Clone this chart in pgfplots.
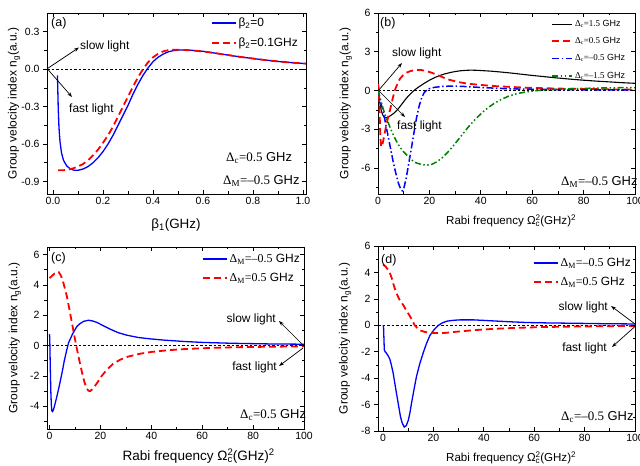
\documentclass[border=0pt]{standalone}
\usepackage{pgfplots}
\pgfplotsset{compat=1.18}
\usepackage{fontspec}
\setmainfont{Liberation Sans}
\newfontfamily\tnr{Liberation Serif}
\usetikzlibrary{arrows.meta}

\definecolor{cblue}{RGB}{0,0,255}
\definecolor{cred}{RGB}{255,0,0}
\definecolor{cgreen}{RGB}{0,128,0}

\newcommand{\fs}[1]{\fontsize{#1}{#1}\selectfont}
\newcommand{\ngl}{Group velocity index n\textsubscript{g}(a.u.)}
\newcommand{\rabi}{Rabi frequency Ω\rlap{\textsuperscript{2}}\textsubscript{c}(GHz)\textsuperscript{2}}

\pgfplotsset{
  panel/.style={
    scale only axis, anchor=south west,
    axis line style={line width=0.8bp},
    tick style={line width=0.7bp, black},
    major tick length=4bp, minor tick length=2.5bp,
    xtick align=inside, ytick align=outside,
    xtick pos=both, ytick pos=left,
    minor x tick num=1,
    /pgf/number format/assume math mode=true,
    tick label style={font=\fs{10.5}},
    xlabel style={anchor=center},
    ylabel style={anchor=center, font=\fs{12}},
    legend style={draw=none, fill=none, font=\fs{12}, inner sep=0pt,
      row sep=6bp, anchor=north east},
    legend cell align=left,
    legend image code/.code={\draw[##1] (0bp,0bp) -- (24bp,0bp);},
  },
  rticks/.style={
    scale only axis, anchor=south west,
    hide x axis, axis y line*=right,
    axis line style={line width=0.8bp},
    tick style={line width=0.7bp, black},
    major tick length=4bp, minor tick length=2.5bp,
    ytick align=inside, yticklabels={},
  },
  zeroline/.style={black, line width=0.6bp, dash pattern=on 2.5bp off 2bp, forget plot},
  sblue/.style={cblue, line width=1.3bp},
  sred/.style={cred, line width=1.8bp, dash pattern=on 7bp off 4bp},
  sblack/.style={black, line width=1.1bp},
  sbluedd/.style={cblue, line width=1.5bp, dash pattern=on 7bp off 2.5bp on 1.5bp off 2.5bp},
  sgreen/.style={cgreen, line width=1.5bp, dash pattern=on 6bp off 2.5bp on 1.5bp off 2.5bp on 1.5bp off 2.5bp},
}

\begin{document}
\begin{tikzpicture}
\useasboundingbox (0bp,0bp) rectangle (640bp,466bp);

% ---------------- (a) ----------------
\begin{axis}[panel, at={(47bp,272bp)}, width=259bp, height=181bp,
  xmin=-0.024, xmax=1.012, ymin=-1.0, ymax=0.45,
  xtick={0,0.2,0.4,0.6,0.8,1.0}, ytick={-0.9,-0.6,-0.3,0,0.3},
  minor ytick={-0.75,-0.45,-0.15,0.15},
  xticklabel style={/pgf/number format/.cd, fixed, fixed zerofill, precision=1},
  yticklabel style={/pgf/number format/.cd, fixed, fixed zerofill, precision=1},
  xlabel={β\textsubscript{1}(GHz)}, xlabel style={font=\fs{13.5}, at={(axis description cs:0.498,-0.171)}},
  ylabel={\ngl}, ylabel style={at={(axis description cs:-0.127,0.5)}},
  legend style={at={(axis description cs:0.977,0.985)}},
]
\addplot[zeroline] coordinates {(-0.024,0) (1.012,0)};
\addplot[sblue] coordinates {
(0.018,-0.05) (0.019,-0.15) (0.021,-0.32) (0.024,-0.47) (0.028,-0.58)
(0.034,-0.67) (0.042,-0.73) (0.055,-0.775) (0.07,-0.80) (0.085,-0.81)
(0.1,-0.81) (0.12,-0.80) (0.14,-0.78) (0.16,-0.75) (0.18,-0.71)
(0.2,-0.66) (0.22,-0.60) (0.24,-0.53) (0.26,-0.45) (0.28,-0.37)
(0.30,-0.29) (0.32,-0.20) (0.34,-0.12) (0.36,-0.05) (0.38,0.01)
(0.40,0.06) (0.42,0.095) (0.44,0.12) (0.46,0.138) (0.48,0.148)
(0.50,0.153) (0.52,0.154) (0.55,0.152) (0.60,0.143) (0.65,0.128)
(0.70,0.113) (0.75,0.098) (0.80,0.085) (0.85,0.073) (0.90,0.062)
(0.95,0.053) (1.00,0.046) (1.012,0.044)};
\addlegendentry{β\textsubscript{2}=0}
\addplot[sred] coordinates {
(0.02,-0.81) (0.04,-0.81) (0.06,-0.805) (0.08,-0.795) (0.10,-0.78)
(0.12,-0.76) (0.14,-0.73) (0.16,-0.69) (0.18,-0.645) (0.20,-0.59)
(0.22,-0.53) (0.24,-0.46) (0.26,-0.38) (0.28,-0.30) (0.30,-0.22)
(0.32,-0.14) (0.34,-0.065) (0.36,0.0) (0.38,0.055) (0.40,0.095)
(0.42,0.123) (0.44,0.142) (0.46,0.152) (0.48,0.156) (0.50,0.156)
(0.52,0.154) (0.55,0.151) (0.60,0.142) (0.65,0.128) (0.70,0.113)
(0.75,0.098) (0.80,0.085) (0.85,0.073) (0.90,0.062) (0.95,0.053)
(1.00,0.046) (1.012,0.044)};
\addlegendentry{β\textsubscript{2}=0.1GHz}
\end{axis}
\begin{axis}[rticks, at={(47bp,272bp)}, width=259bp, height=181bp,
  xmin=-0.024, xmax=1.012, ymin=-1.0, ymax=0.45,
  ytick={-0.9,-0.6,-0.3,0,0.3}, minor ytick={-0.75,-0.45,-0.15,0.15}]
\end{axis}

% ---------------- (b) ----------------
\begin{axis}[panel, at={(378bp,272bp)}, width=257bp, height=181bp,
  xmin=0, xmax=100, ymin=-8, ymax=6,
  xtick={0,20,40,60,80,100}, ytick={-6,-3,0,3,6},
  minor ytick={-7.5,-4.5,-1.5,1.5,4.5},
  xlabel={\rabi}, xlabel style={font=\fs{11.6}, at={(axis description cs:0.518,-0.15)}},
  ylabel={\ngl}, ylabel style={at={(axis description cs:-0.125,0.5)}},
  legend style={at={(axis description cs:0.97,0.972)}, font=\fs{9}, row sep=5.5bp},
  legend image code/.code={\draw[#1] (0bp,0bp) -- (20bp,0bp);},
]
\addplot[zeroline] coordinates {(0,0) (100,0)};
\addplot[sblack] coordinates {
(0,0) (0.5,-0.7) (1,-1.3) (1.5,-1.7) (2,-1.95) (2.5,-2.07) (3,-2.1)
(3.5,-2.09) (4,-2.05) (5,-1.92) (6,-1.78) (7,-1.6) (8,-1.38) (9,-1.12)
(10,-0.86) (11,-0.6) (12,-0.38) (13,-0.18) (14,0.0) (15,0.16) (16,0.3)
(18,0.56) (20,0.8) (22,1.0) (24,1.16) (26,1.29) (28,1.39) (30,1.47)
(32,1.53) (34,1.56) (36,1.58) (38,1.57) (40,1.55) (44,1.5) (48,1.43)
(52,1.35) (56,1.26) (60,1.17) (65,1.07) (70,0.97) (75,0.88) (80,0.8)
(85,0.73) (90,0.67) (95,0.61) (100,0.56)};
\addlegendentry{{\tnr Δ\textsubscript{c}=1.5} GHz}
\addplot[sred] coordinates {
(0,0.5) (0.3,0.2) (0.6,-1.5) (0.9,-3.5) (1.2,-4.35) (1.6,-4.3) (2,-3.9)
(2.6,-3.3) (3.2,-2.7) (4,-2.0) (4.6,-1.57) (5.5,-0.8) (6.5,0.0) (7.5,0.5)
(8.5,0.9) (9.8,1.2) (11,1.38) (12.5,1.5) (14,1.57) (15.5,1.6) (17,1.58)
(18.5,1.52) (20.3,1.42) (22,1.3) (24,1.13) (26,0.96) (28,0.82) (30,0.72)
(32,0.63) (35,0.53) (38.6,0.46) (42,0.4) (46,0.34) (51.6,0.28) (58,0.22)
(64.7,0.18) (71,0.15) (78,0.13) (85,0.11) (92,0.09) (100,0.08)};
\addlegendentry{{\tnr Δ\textsubscript{c}=0.5} GHz}
\addplot[sbluedd] coordinates {
(0,0.1) (0.5,-0.4) (1,-0.9) (2,-1.57) (3,-2.6) (4,-3.6) (5,-4.6) (6,-5.6)
(7,-6.45) (8,-7.2) (9,-7.7) (9.5,-7.75) (10,-7.6) (11,-6.75) (12,-5.6)
(13,-4.45) (14,-3.25) (15,-2.1) (16,-1.2) (17,-0.55) (18,-0.15) (19,0.05)
(20,0.15) (22,0.25) (25,0.32) (28,0.34) (32,0.33) (36,0.29) (40,0.24)
(46,0.18) (52,0.13) (60,0.1) (70,0.08) (80,0.06) (90,0.05) (100,0.04)};
\addlegendentry{{\tnr Δ\textsubscript{c}=–0.5} GHz}
\addplot[sgreen] coordinates {
(0,0) (1,-0.7) (2,-1.4) (3,-2.0) (4,-2.5) (5,-3.0) (6,-3.45) (7,-3.85)
(8,-4.2) (9,-4.5) (10,-4.75) (11,-4.95) (12,-5.15) (13,-5.35) (14,-5.5)
(15,-5.6) (17,-5.72) (19,-5.77) (21,-5.7) (23,-5.5) (25,-5.2) (27,-4.8)
(29,-4.35) (31,-3.85) (33,-3.35) (35,-2.85) (37,-2.4) (39,-2.0) (41,-1.62)
(43,-1.3) (45,-1.02) (48,-0.68) (51,-0.42) (54,-0.24) (58,-0.09) (62,0.0)
(66,0.06) (70,0.1) (75,0.14) (80,0.17) (85,0.19) (90,0.21) (95,0.22) (100,0.23)};
\addlegendentry{{\tnr Δ\textsubscript{c}=–1.5} GHz}
\end{axis}
\begin{axis}[rticks, at={(378bp,272bp)}, width=257bp, height=181bp,
  xmin=0, xmax=100, ymin=-8, ymax=6,
  ytick={-6,-3,0,3,6}, minor ytick={-7.5,-4.5,-1.5,1.5,4.5}]
\end{axis}

% ---------------- (c) ----------------
\begin{axis}[panel, at={(47bp,37bp)}, width=257bp, height=182bp,
  xmin=-1, xmax=100, ymin=-5.5, ymax=6.5,
  xtick={0,20,40,60,80,100}, ytick={-4,-2,0,2,4,6},
  minor ytick={-5,-3,-1,1,3,5},
  xlabel={\rabi}, xlabel style={font=\fs{13.6}, at={(axis description cs:0.59,-0.15)}},
  ylabel={\ngl}, ylabel style={at={(axis description cs:-0.125,0.5)}},
  legend style={at={(axis description cs:0.992,0.973)}, row sep=5bp},
]
\addplot[zeroline] coordinates {(-1,0) (100,0)};
\addplot[sblue] coordinates {
(0,0.75) (0.1,0.3) (0.3,-1.5) (0.5,-3.0) (0.7,-3.9) (0.9,-4.3) (1.2,-4.35)
(1.6,-4.2) (2,-3.95) (2.9,-3.34) (3.9,-2.6) (4.9,-1.8) (5.8,-1.0) (6.8,-0.26)
(7.5,0.2) (8.2,0.45) (9,0.75) (10,1.05) (10.8,1.27) (12,1.45) (13.4,1.6)
(15.4,1.67) (17,1.62) (18.7,1.52) (21,1.32) (24,1.07) (27,0.85) (30.5,0.68)
(35,0.53) (39.7,0.44) (45,0.36) (52.9,0.27) (60,0.21) (66,0.18) (72,0.15)
(79,0.13) (86,0.11) (93,0.1) (100,0.09)};
\addlegendentry{{\tnr Δ\textsubscript{M}=–0.5} GHz}
\addplot[sred] coordinates {
(0,4.45) (1,4.6) (2,4.75) (3,4.85) (3.6,4.85) (4.5,4.6) (5.5,4.1) (6.8,3.25)
(7.8,2.4) (8.8,1.5) (9.8,0.6) (10.8,-0.26) (11.8,-1.05) (12.8,-1.8)
(13.7,-2.4) (14.5,-2.8) (15.3,-2.98) (16,-3.0) (17,-2.85) (18.7,-2.46)
(20.5,-2.0) (22.6,-1.58) (25,-1.2) (27.9,-0.92) (31,-0.72) (35.8,-0.53)
(40,-0.42) (46.3,-0.31) (52,-0.24) (59.5,-0.18) (66,-0.14) (72.6,-0.11)
(80,-0.09) (90,-0.07) (100,-0.05)};
\addlegendentry{{\tnr Δ\textsubscript{M}=0.5} GHz}
\end{axis}
\begin{axis}[rticks, at={(47bp,37bp)}, width=257bp, height=182bp,
  xmin=-1, xmax=100, ymin=-5.5, ymax=6.5,
  ytick={-4,-2,0,2,4,6}, minor ytick={-5,-3,-1,1,3,5}]
\end{axis}

% ---------------- (d) ----------------
\begin{axis}[panel, at={(378bp,35bp)}, width=257bp, height=185bp,
  xmin=-2, xmax=100, ymin=-8, ymax=6,
  xtick={0,20,40,60,80,100}, ytick={-8,-6,-4,-2,0,2,4,6},
  minor ytick={-7,-5,-3,-1,1,3,5},
  xlabel={\rabi}, xlabel style={font=\fs{11.6}, at={(axis description cs:0.518,-0.145)}},
  ylabel={\ngl}, ylabel style={at={(axis description cs:-0.128,0.5)}},
  legend style={at={(axis description cs:0.992,0.946)}, row sep=5bp},
]
\addplot[zeroline] coordinates {(-2,0) (100,0)};
\addplot[sblue] coordinates {
(0,0) (0.2,-0.1) (0.35,-1.0) (0.5,-1.85) (0.8,-2.0) (1.1,-2.05) (2,-2.3)
(2.7,-2.56) (3.3,-3.0) (4,-3.6) (4.6,-4.3) (5.3,-5.1) (6.1,-6.0) (6.9,-6.9)
(7.6,-7.4) (8.4,-7.7) (9.2,-7.6) (10,-7.2) (10.7,-6.6) (11.3,-5.9)
(12.3,-4.85) (13.3,-3.85) (14.6,-2.9) (16,-2.05) (17.3,-1.35) (18.6,-0.77)
(20.3,-0.32) (22,0) (23.5,0.18) (25.3,0.31) (28,0.38) (30.6,0.41)
(35.9,0.41) (40,0.37) (43.9,0.33) (50,0.27) (57,0.21) (65,0.18) (77,0.15)
(88,0.12) (100,0.1)};
\addlegendentry{{\tnr Δ\textsubscript{M}=–0.5} GHz}
\addplot[sred] coordinates {
(0,4.6) (1,4.45) (2,4.2) (2.7,3.97) (3.5,3.55) (4.3,3.0) (5.3,2.44)
(6.5,1.95) (8,1.54) (9.3,1.1) (10.6,0.72) (11.6,0.35) (12.6,0.0)
(13.6,-0.22) (14.6,-0.38) (16.5,-0.5) (18.6,-0.56) (21,-0.59) (23.9,-0.59)
(27,-0.53) (30.6,-0.46) (36,-0.37) (43.9,-0.27) (52,-0.2) (63.8,-0.13)
(75,-0.1) (88,-0.07) (100,-0.05)};
\addlegendentry{{\tnr Δ\textsubscript{M}=0.5} GHz}
\end{axis}
\begin{axis}[rticks, at={(378bp,35bp)}, width=257bp, height=185bp,
  xmin=-2, xmax=100, ymin=-8, ymax=6,
  ytick={-8,-6,-4,-2,0,2,4,6}, minor ytick={-7,-5,-3,-1,1,3,5}]
\end{axis}

% ---------------- annotations ----------------
\begin{scope}[x=1bp, y=1bp,
  ann/.style={inner sep=0pt, font=\fs{12}},
  arr/.style={-{Stealth[length=5bp,width=3.5bp]}, line width=0.7bp, black}]
% (a)
\node[ann, anchor=west, font=\fs{12.5}] at (51,443) {(a)};
\draw[arr] (47.5,397.5) -- (79,418.5);
\node[ann, anchor=west] at (80,420) {slow light};
\draw[arr] (47.5,397) -- (72,369);
\node[ann, anchor=west] at (69,357) {fast light};
\node[ann, anchor=west, font=\fs{13}] at (226,308) {{\tnr Δ\textsubscript{c}=0.5} GHz};
\node[ann, anchor=west, font=\fs{13}] at (223,285) {{\tnr Δ\textsubscript{M}=–0.5} GHz};
% (b)
\node[ann, anchor=west, font=\fs{12.5}] at (380,443) {(b)};
\draw[arr] (378.5,375.5) -- (402,403);
\node[ann, anchor=west] at (392,413) {slow light};
\draw[arr] (379,375) -- (405,349);
\node[ann, anchor=west] at (397,340) {fast light};
\node[ann, anchor=west, font=\fs{13}] at (561,284) {{\tnr Δ\textsubscript{M}=–0.5} GHz};
% (c)
\node[ann, anchor=west, font=\fs{12.5}] at (51,208) {(c)};
\draw[arr] (303,121) -- (279,145);
\node[ann, anchor=east] at (276,147) {slow light};
\draw[arr] (303,118) -- (279,100);
\node[ann, anchor=east] at (277,99) {fast light};
\node[ann, anchor=west, font=\fs{13}] at (240,51) {{\tnr Δ\textsubscript{c}=0.5} GHz};
% (d)
\node[ann, anchor=west, font=\fs{12.5}] at (381,206) {(d)};
\draw[arr] (635,142) -- (611,160);
\node[ann, anchor=east] at (608,159) {slow light};
\draw[arr] (635,139.5) -- (612,119);
\node[ann, anchor=east] at (607,118) {fast light};
\node[ann, anchor=west, font=\fs{13}] at (561,49) {{\tnr Δ\textsubscript{c}=–0.5} GHz};
\end{scope}
\end{tikzpicture}
\end{document}
